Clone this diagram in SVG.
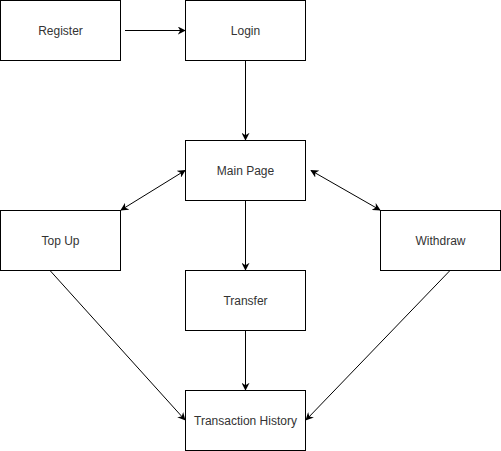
<svg xmlns="http://www.w3.org/2000/svg" width="501" height="451" viewBox="0 0 501 451">
<defs>
<marker id="arr" viewBox="0 0 10 10" refX="9" refY="5" markerWidth="8" markerHeight="8" markerUnits="userSpaceOnUse" orient="auto-start-reverse">
<path d="M0,0 L10,5 L0,10 L3,5 Z" fill="#000"/>
</marker>
<style>
.n rect{fill:#fff;stroke:#000;stroke-width:1}
.n text{font-family:"Liberation Sans",Arial,sans-serif;font-size:12px;fill:#333;text-anchor:middle;dominant-baseline:central}
.e line{stroke:#000;stroke-width:1;fill:none}
</style>
</defs>
<rect width="501" height="451" fill="#fff"/>
<g id="connectors" class="e">
<line x1="125" y1="30.5" x2="185" y2="30.5" marker-end="url(#arr)"/>
<line x1="245.5" y1="60.5" x2="245.5" y2="140" marker-end="url(#arr)"/>
<line x1="185" y1="170.5" x2="121" y2="210" marker-start="url(#arr)" marker-end="url(#arr)"/>
<line x1="311" y1="170.5" x2="380" y2="210" marker-start="url(#arr)" marker-end="url(#arr)"/>
<line x1="245.5" y1="200.5" x2="245.5" y2="270" marker-end="url(#arr)"/>
<line x1="245.5" y1="330.5" x2="245.5" y2="390" marker-end="url(#arr)"/>
<line x1="50" y1="270.5" x2="185" y2="420" marker-end="url(#arr)"/>
<line x1="450" y1="270.5" x2="306" y2="420" marker-end="url(#arr)"/>
</g>
<g id="register" class="n"><rect x="0.5" y="0.5" width="120" height="60"/><text x="60.5" y="30.5">Register</text></g>
<g id="login" class="n"><rect x="185.5" y="0.5" width="120" height="60"/><text x="245.5" y="30.5">Login</text></g>
<g id="mainpage" class="n"><rect x="185.5" y="140.5" width="120" height="60"/><text x="245.5" y="170.5">Main Page</text></g>
<g id="topup" class="n"><rect x="0.5" y="210.5" width="120" height="60"/><text x="60.5" y="240.5">Top Up</text></g>
<g id="withdraw" class="n"><rect x="380.5" y="210.5" width="120" height="60"/><text x="440.5" y="240.5">Withdraw</text></g>
<g id="transfer" class="n"><rect x="185.5" y="270.5" width="120" height="60"/><text x="245.5" y="300.5">Transfer</text></g>
<g id="history" class="n"><rect x="185.5" y="390.5" width="120" height="60"/><text x="245.5" y="420.5">Transaction History</text></g>
</svg>
